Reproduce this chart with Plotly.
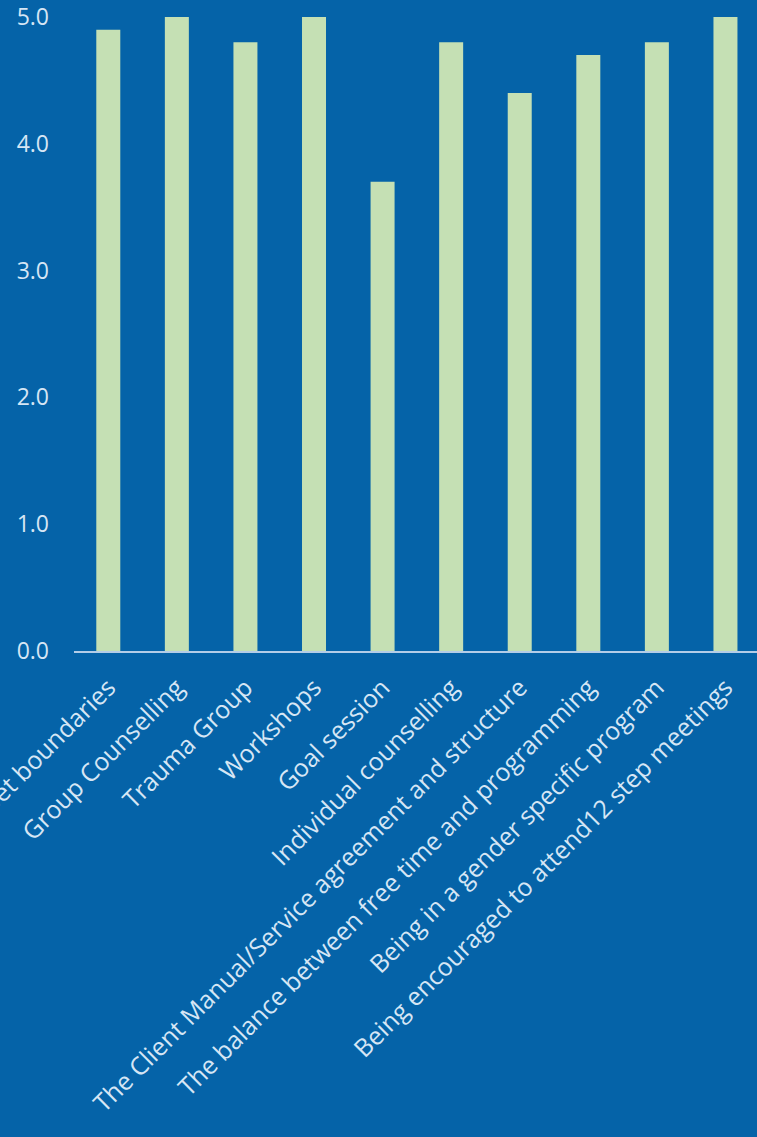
import plotly.graph_objects as go

categories = [
    "Set boundaries",
    "Group Counselling",
    "Trauma Group",
    "Workshops",
    "Goal session",
    "Individual counselling",
    "The Client Manual/Service agreement and structure",
    "The balance between free time and programming",
    "Being in a gender specific program",
    "Being encouraged to attend12 step meetings",
]
values = [4.9, 5.0, 4.8, 5.0, 3.7, 4.8, 4.4, 4.7, 4.8, 5.0]
y_ticks = [0, 1, 2, 3, 4, 5]
y_labels = ["0.0", "1.0", "2.0", "3.0", "4.0", "5.0"]

BG = "#0563a8"
TXT = "#d6e6f5"

fig = go.Figure(go.Bar(
    x=list(range(len(categories))), y=values,
    marker=dict(color="#c5e0b4", line=dict(width=0)),
    width=0.35,
))
fig.update_layout(
    width=757, height=1137,
    margin=dict(l=74, r=0, t=17, b=486),
    paper_bgcolor=BG, plot_bgcolor=BG,
    showlegend=False,
    font=dict(family="Open Sans", color=TXT, size=20),
)
fig.update_xaxes(
    tickmode="array", tickvals=list(range(len(categories))), ticktext=categories,
    range=[-0.5, 9.46], tickangle=-45, automargin=False,
    ticklabeloverflow="allow", ticklabelstandoff=10,
    showgrid=False, zeroline=False, showline=True, linecolor="#b4cde8", linewidth=2,
    ticks="", tickfont=dict(size=25, color=TXT),
)
fig.update_yaxes(
    tickmode="array", tickvals=y_ticks, ticktext=y_labels,
    range=[0, 5], automargin=False, showgrid=False, zeroline=False, showline=False,
    ticks="", ticklabelstandoff=24, tickfont=dict(size=23, color=TXT),
)
fig.write_html("out.html")
